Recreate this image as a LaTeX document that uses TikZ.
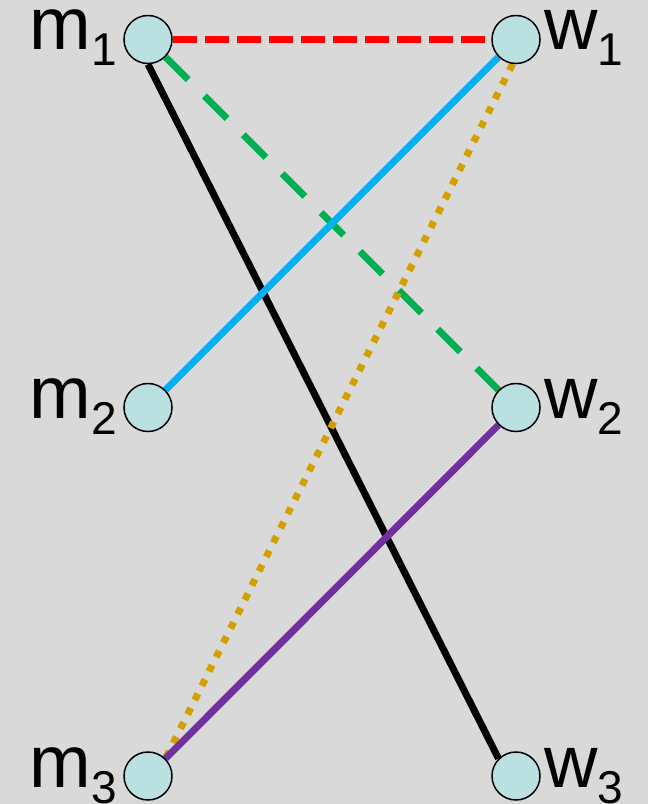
\documentclass[tikz,border=0pt]{standalone}
\usepackage{fontspec}
\setmainfont{Liberation Sans}
\usetikzlibrary{backgrounds}
\definecolor{bgc}{RGB}{217,217,217}
\definecolor{nodefill}{RGB}{186,224,226}
\definecolor{cred}{RGB}{255,0,0}
\definecolor{cgreen}{RGB}{0,176,80}
\definecolor{cblue}{RGB}{0,176,240}
\definecolor{cgold}{RGB}{212,160,0}
\definecolor{cpurple}{RGB}{112,48,160}
\tikzset{
  vert/.style={circle,draw=black,line width=1.5pt,fill=nodefill,minimum size=48pt,inner sep=0pt},
  labstyle/.style={inner sep=0pt,text height=38pt,text depth=14pt,font=\fontsize{74}{74}\selectfont},
  mlabel/.style={labstyle,anchor=base east},
  wlabel/.style={labstyle,anchor=base west},
  edge/.style={line width=7pt},
}
\newcommand{\sublab}[2]{#1\raisebox{-16pt}{\fontsize{46}{46}\selectfont #2}}
\begin{document}
\begin{tikzpicture}[x=1pt,y=-1pt]
\useasboundingbox (0,0) rectangle (648,804);
\node[vert] (m1) at (148,39.5) {};
\node[vert] (w1) at (516,39.5) {};
\node[vert] (m2) at (148,407.5) {};
\node[vert] (w2) at (516,407.5) {};
\node[vert] (m3) at (148,776) {};
\node[vert] (w3) at (516,776) {};
\node[mlabel] (lm1) at (117,49) {\sublab{m}{1}};
\node[mlabel] (lm2) at (117,418) {\sublab{m}{2}};
\node[mlabel] (lm3) at (117,787) {\sublab{m}{3}};
\node[wlabel] (lw1) at (544,49) {\sublab{w}{1}};
\node[wlabel] (lw2) at (544,418) {\sublab{w}{2}};
\node[wlabel] (lw3) at (544,787) {\sublab{w}{3}};
\begin{scope}[on background layer]
\fill[bgc] (0,0) rectangle (648,804);
\draw[edge,cred,dash pattern=on 24pt off 8pt] (m1.east) -- (w1.west);
\draw[edge,black] (m1.south) -- (w3.north west);
\draw[edge,cgreen,dash pattern=on 32pt off 23pt] (m1.south east) -- (w2.north west);
\draw[edge,cblue] (w1.south west) -- (m2.north east);
\draw[edge,cgold,dash pattern=on 7pt off 9pt] (w1.262) -- (m3.north east);
\draw[edge,cpurple] (w2.south west) -- (m3.north east);
\end{scope}
\end{tikzpicture}
\end{document}
